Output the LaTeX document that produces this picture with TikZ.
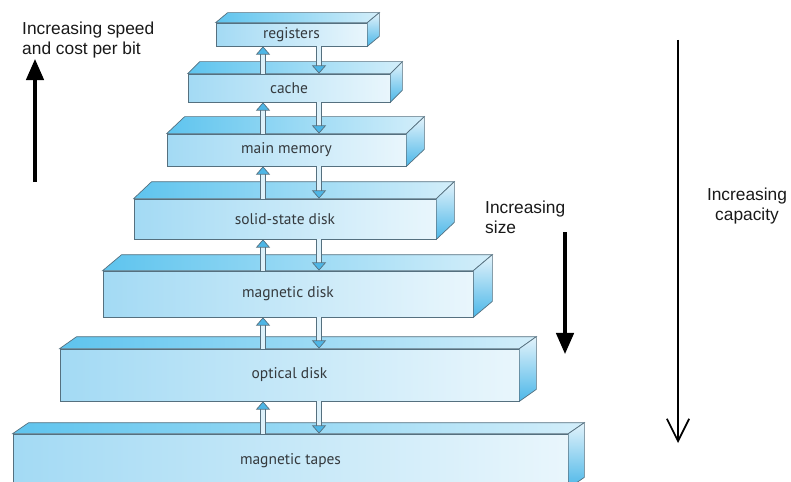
\documentclass[tikz,border=0pt]{standalone}
\usepackage{fontspec}
\setmainfont{Liberation Sans}
\newfontfamily\boxfont{PT Sans}
\usetikzlibrary{arrows.meta,positioning,calc}
\definecolor{frontleft}{HTML}{A3DAF4}
\definecolor{frontright}{HTML}{E9F6FC}
\definecolor{topleft}{HTML}{5EC4EE}
\definecolor{topright}{HTML}{D3EEFA}
\definecolor{sidetop}{HTML}{E3F3FB}
\definecolor{sidebottom}{HTML}{4CB7E8}
\definecolor{edgegrey}{HTML}{55707F}
\definecolor{tipblue}{HTML}{4DB6E6}
\definecolor{shaftblue}{HTML}{DDF1FA}
\definecolor{labelgrey}{HTML}{353A3E}

\tikzset{
  tier/.style 2 args={draw=edgegrey, line width=0.6pt, left color=frontleft, right color=frontright,
    minimum width=#1*0.03cm, minimum height=#2*0.03cm, inner sep=0pt,
    font=\boxfont\fontsize{13.2}{15}\selectfont, text=labelgrey},
  topface/.style={draw=edgegrey, line width=0.6pt, left color=topleft, right color=topright},
  sideface/.style={draw=edgegrey, line width=0.6pt, top color=sidetop, bottom color=sidebottom},
  link/.style={draw=edgegrey, line width=0.6pt, double=shaftblue, double distance=3.8pt,
    -{Triangle[length=7pt,width=12pt,fill=tipblue]}},
  sidelabel/.style={inner sep=0pt, font=\fontsize{14.8}{17}\selectfont, text=black!90}
}

% top and right faces of a slab
\newcommand{\slab}[3]{%
  \draw[topface] (#1.north west) -- ++(#2,-#3) -- ([shift={(#2,-#3)}]#1.north east) -- (#1.north east) -- cycle;
  \draw[sideface] (#1.north east) -- ++(#2,-#3) -- ([shift={(#2,-#3)}]#1.south east) -- (#1.south east) -- cycle;}

\begin{document}
\begin{tikzpicture}[x=0.03cm, y=-0.03cm]
  \clip (0,0) rectangle (791,482);

  % hierarchy levels
  \node[tier={151}{23}] (reg) at (291.5,34.5) {registers};
  \node[tier={202}{28}] (cache) at (289,88) {cache};
  \node[tier={239}{32}] (mem) at (286.5,150) {main memory};
  \node[tier={302}{40}] (ssd) at (285,219) {solid-state disk};
  \node[tier={370}{46}] (mdisk) at (288,294) {magnetic disk};
  \node[tier={459}{52}] (odisk) at (289.5,375) {optical disk};
  \node[tier={555}{54}] (tapes) at (290.5,461) {magnetic tapes};

  \slab{reg}{12}{10}
  \slab{cache}{12}{12}
  \slab{mem}{18}{17}
  \slab{ssd}{18}{17}
  \slab{mdisk}{19}{16}
  \slab{odisk}{17}{12}
  \slab{tapes}{16}{11}

  % transfers between levels
  \coordinate (upx) at (263,0);
  \coordinate (dnx) at (319,0);
  \draw[link] (cache.north -| upx) -- (reg.south -| upx);
  \draw[link] (reg.south -| dnx) -- (cache.north -| dnx);
  \draw[link] (mem.north -| upx) -- (cache.south -| upx);
  \draw[link] (cache.south -| dnx) -- (mem.north -| dnx);
  \draw[link] (ssd.north -| upx) -- (mem.south -| upx);
  \draw[link] (mem.south -| dnx) -- (ssd.north -| dnx);
  \draw[link] (mdisk.north -| upx) -- (ssd.south -| upx);
  \draw[link] (ssd.south -| dnx) -- (mdisk.north -| dnx);
  \draw[link] (odisk.north -| upx) -- (mdisk.south -| upx);
  \draw[link] (mdisk.south -| dnx) -- (odisk.north -| dnx);
  \draw[link] (tapes.north -| upx) -- (odisk.south -| upx);
  \draw[link] (odisk.south -| dnx) -- (tapes.north -| dnx);

  % side labels
  \node[sidelabel, anchor=north west, align=left] (speed) at (22,21.5) {Increasing speed\\and cost per bit};
  \node[sidelabel, anchor=north west, align=left] (size) at (485,201) {Increasing\\size};
  \node[sidelabel, anchor=north, align=center] (capacity) at (747,188) {Increasing\\capacity};

  % trend arrows
  \coordinate (speedlow) at (35,182);
  \coordinate (speedtip) at (35,59);
  \coordinate (sizetop) at (565,232);
  \coordinate (sizetip) at (565,354);
  \coordinate (captop) at (678,40);
  \coordinate (captip) at (678,443);
  \draw[line width=2.6pt, -{Triangle[length=18pt,width=15pt]}] (speedlow) -- (speedtip);
  \draw[line width=2.6pt, -{Triangle[length=18pt,width=15pt]}] (sizetop) -- (sizetip);
  \draw[line width=1.5pt, -{Straight Barb[length=19pt,width=19pt]}] (captop) -- (captip);
\end{tikzpicture}
\end{document}
